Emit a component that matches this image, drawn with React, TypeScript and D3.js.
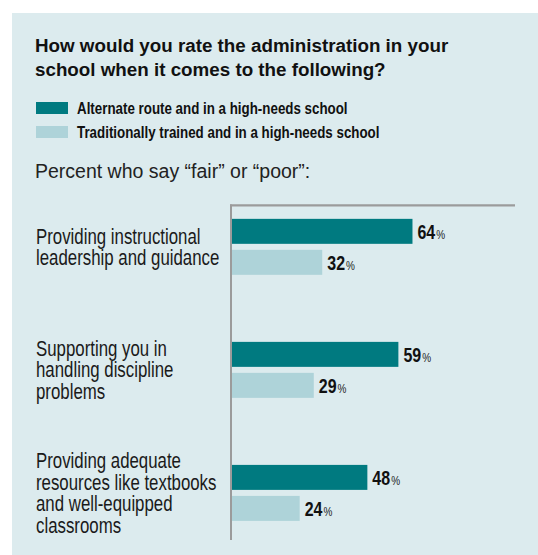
import React from "react";
import * as d3 from "d3";

const titleLines = [
  "How would you rate the administration in your",
  "school when it comes to the following?",
];
const seriesNames = [
  "Alternate route and in a high-needs school",
  "Traditionally trained and in a high-needs school",
];
const subtitle = "Percent who say \u201cfair\u201d or \u201cpoor\u201d:";
const categories = [
  "Providing instructional leadership and guidance",
  "Supporting you in handling discipline problems",
  "Providing adequate resources like textbooks and well-equipped classrooms",
];
const categoryLines = [
  ["Providing instructional", "leadership and guidance"],
  ["Supporting you in", "handling discipline", "problems"],
  ["Providing adequate", "resources like textbooks", "and well-equipped", "classrooms"],
];
const alternateValues = [64, 59, 48];
const traditionalValues = [32, 29, 24];

const W = 538;
const H = 555;
const BG = "#dcebee";
const DARK = "#007a80";
const LIGHT = "#aed3d9";
const AXIS = "#9b9b9b";
const FONT = "'Liberation Sans', Arial, sans-serif";
const COND = 0.8;

function CText(props: {
  x: number;
  y: number;
  sx?: number;
  size: number;
  weight?: string | number;
  fill?: string;
  children: React.ReactNode;
}) {
  const { x, y, sx = COND, size, weight = "normal", fill = "#151515", children } = props;
  return (
    <text
      transform={`translate(${x},${y}) scale(${sx},1)`}
      fontFamily={FONT}
      fontSize={size}
      fontWeight={weight}
      fill={fill}
    >
      {children}
    </text>
  );
}

export default function App() {
  const x = d3.scaleLinear().domain([0, 100]).range([232, 514]);
  const y = d3
    .scaleBand<string>()
    .domain(categories)
    .range([205, 540])
    .paddingInner(0.545)
    .paddingOuter(0.134)
    .align(0.42);
  const sub = d3
    .scaleBand<string>()
    .domain(seriesNames)
    .range([0, y.bandwidth()])
    .paddingInner(0.194);
  const colors = d3.scaleOrdinal<string, string>().domain(seriesNames).range([DARK, LIGHT]);
  const seriesValues = [alternateValues, traditionalValues];
  const lineH = 21.5;
  const numSize = 20.5;
  const numScale = 0.78;

  return (
    <svg
      width={W}
      height={H}
      style={{ position: "absolute", left: 0, top: 0, display: "block" }}
    >
      <rect x={12} y={13} width={W - 12} height={H - 13} fill={BG} />

      {titleLines.map((t, i) => (
        <text
          key={t}
          x={35}
          y={51.7 + i * 23.8}
          fontFamily={FONT}
          fontSize={18.8}
          fontWeight="bold"
          fill="#111"
        >
          {t}
        </text>
      ))}

      {seriesNames.map((s, i) => (
        <g key={s}>
          <rect x={36} y={102 + i * 24} width={32} height={12} fill={colors(s)} />
          <CText x={77} y={114.3 + i * 24} size={16.9} sx={0.79} weight="bold" fill="#111">
            {s}
          </CText>
        </g>
      ))}

      <text x={35} y={178.3} fontFamily={FONT} fontSize={19.5} fill="#222">
        {subtitle}
      </text>

      {categories.map((c, ci) => {
        const y0 = y(c)!;
        const center = y0 + y.bandwidth() / 2;
        const lines = categoryLines[ci];
        const first = center - ((lines.length - 1) * lineH) / 2 + 7.5;
        return (
          <g key={c}>
            {lines.map((ln, li) => (
              <CText key={ln} x={36} y={first + li * lineH} size={21.3} sx={0.79} fill="#1a1a1a">
                {ln}
              </CText>
            ))}
            {seriesNames.map((s, si) => {
              const v = seriesValues[si][ci];
              const by = y0 + sub(s)!;
              const bh = sub.bandwidth();
              const ly = by + bh / 2 + 7.5;
              const numW = String(v).length * 0.556 * numSize * numScale;
              return (
                <g key={s}>
                  <rect x={x(0)} y={by} width={x(v) - x(0)} height={bh} fill={colors(s)} />
                  <CText x={x(v) + 5} y={ly} size={numSize} sx={numScale} weight="bold" fill="#111">
                    {String(v)}
                  </CText>
                  <CText x={x(v) + 5 + numW + 1} y={ly} size={12.5} sx={0.8} fill="#222">
                    %
                  </CText>
                </g>
              );
            })}
          </g>
        );
      })}

      <line x1={231} x2={231} y1={204.5} y2={540} stroke={AXIS} strokeWidth={2} />
      <line x1={230} x2={515} y1={205.3} y2={205.3} stroke={AXIS} strokeWidth={2.2} />
    </svg>
  );
}
